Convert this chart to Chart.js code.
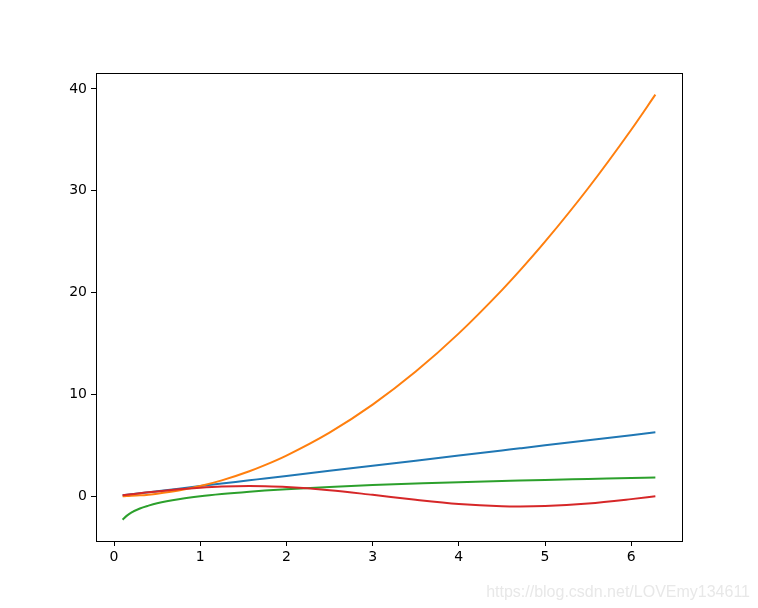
<!DOCTYPE html>
<html>
<head>
<meta charset="utf-8">
<script src="https://cdn.jsdelivr.net/npm/chart.js@4"></script>
<style>
	html, body { margin: 0; padding: 0; background: #fff; }
	canvas { display: block; }
</style>
</head>
<body>
<canvas id="chart" width="758" height="608"></canvas>
<script>
// values
const xs = [0.1, 0.15, 0.2, 0.3, 0.4, 0.5, 0.75, 1.0, 1.25, 1.57, 1.75, 2.0, 2.5, 3.0, 3.5, 4.0, 4.5, 4.71, 5.0, 5.5, 6.0, 6.28];
const lineVals = [0.1, 0.15, 0.2, 0.3, 0.4, 0.5, 0.75, 1.0, 1.25, 1.57, 1.75, 2.0, 2.5, 3.0, 3.5, 4.0, 4.5, 4.71, 5.0, 5.5, 6.0, 6.28];
const squareVals = [0.01, 0.02, 0.04, 0.09, 0.16, 0.25, 0.56, 1.0, 1.56, 2.46, 3.06, 4.0, 6.25, 9.0, 12.25, 16.0, 20.25, 22.18, 25.0, 30.25, 36.0, 39.44];
const logVals = [-2.30, -1.90, -1.61, -1.20, -0.92, -0.69, -0.29, 0.0, 0.22, 0.45, 0.56, 0.69, 0.92, 1.10, 1.25, 1.39, 1.50, 1.55, 1.61, 1.70, 1.79, 1.84];
const sinVals = [0.10, 0.15, 0.20, 0.30, 0.39, 0.48, 0.68, 0.84, 0.95, 1.00, 0.98, 0.91, 0.60, 0.14, -0.35, -0.76, -0.98, -1.00, -0.96, -0.71, -0.28, 0.00];
const xTicks = [0, 1, 2, 3, 4, 5, 6];
const yTicks = [0, 10, 20, 30, 40];

const colors = ['#1f77b4', '#ff7f0e', '#2ca02c', '#d62728'];

function points(vals) {
	return xs.map((x, i) => ({x: x, y: vals[i]}));
}

function make_set(vals, idx) {
	return {
		data: points(vals),
		borderColor: colors[idx],
		backgroundColor: colors[idx],
		borderWidth: 2,
		pointRadius: 0,
		cubicInterpolationMode: 'monotone',
		fill: false,
		order: 4 - idx
	};
}

// black frame round the plot + the blog watermark
const frame = {
	id: 'frame',
	afterDatasetsDraw(chart) {
		const a = chart.chartArea;
		const ctx = chart.ctx;
		ctx.save();
		ctx.strokeStyle = '#000';
		ctx.lineWidth = 1;
		ctx.strokeRect(a.left + 0.5, a.top + 0.5, a.right - a.left, a.bottom - a.top);
		ctx.restore();
	},
	afterDraw(chart) {
		const ctx = chart.ctx;
		ctx.save();
		ctx.fillStyle = '#e8e8e8';
		ctx.font = '16px "Liberation Sans", Arial, sans-serif';
		ctx.textAlign = 'right';
		ctx.textBaseline = 'alphabetic';
		ctx.fillText('https://blog.csdn.net/LOVEmy134611', 750, 597);
		ctx.restore();
	}
};

const tickFont = {family: '"DejaVu Sans", sans-serif', size: 14};

new Chart(document.getElementById('chart'), {
	type: 'line',
	data: {
		datasets: [
			make_set(lineVals, 0),
			make_set(squareVals, 1),
			make_set(logVals, 2),
			make_set(sinVals, 3)
		]
	},
	options: {
		responsive: false,
		animation: false,
		events: [],
		layout: {padding: {top: 73, right: 76, bottom: 0, left: 0}},
		plugins: {
			legend: {display: false},
			tooltip: {enabled: false}
		},
		scales: {
			x: {
				type: 'linear',
				min: -0.209,
				max: 6.589,
				afterBuildTicks: s => { s.ticks = xTicks.map(v => ({value: v})); },
				afterFit: s => { s.height = 67; },
				ticks: {color: '#000', font: tickFont, padding: 3, maxRotation: 0},
				grid: {display: true, drawOnChartArea: false, drawTicks: true, tickLength: 5, color: '#000'},
				border: {display: true, color: '#000'}
			},
			y: {
				type: 'linear',
				min: -4.392,
				max: 41.57,
				afterBuildTicks: s => { s.ticks = yTicks.map(v => ({value: v})); },
				afterFit: s => { s.width = 96; },
				ticks: {color: '#000', font: tickFont, padding: 4},
				grid: {display: true, drawOnChartArea: false, drawTicks: true, tickLength: 5, color: '#000'},
				border: {display: true, color: '#000'}
			}
		}
	},
	plugins: [frame]
});
</script>
</body>
</html>
